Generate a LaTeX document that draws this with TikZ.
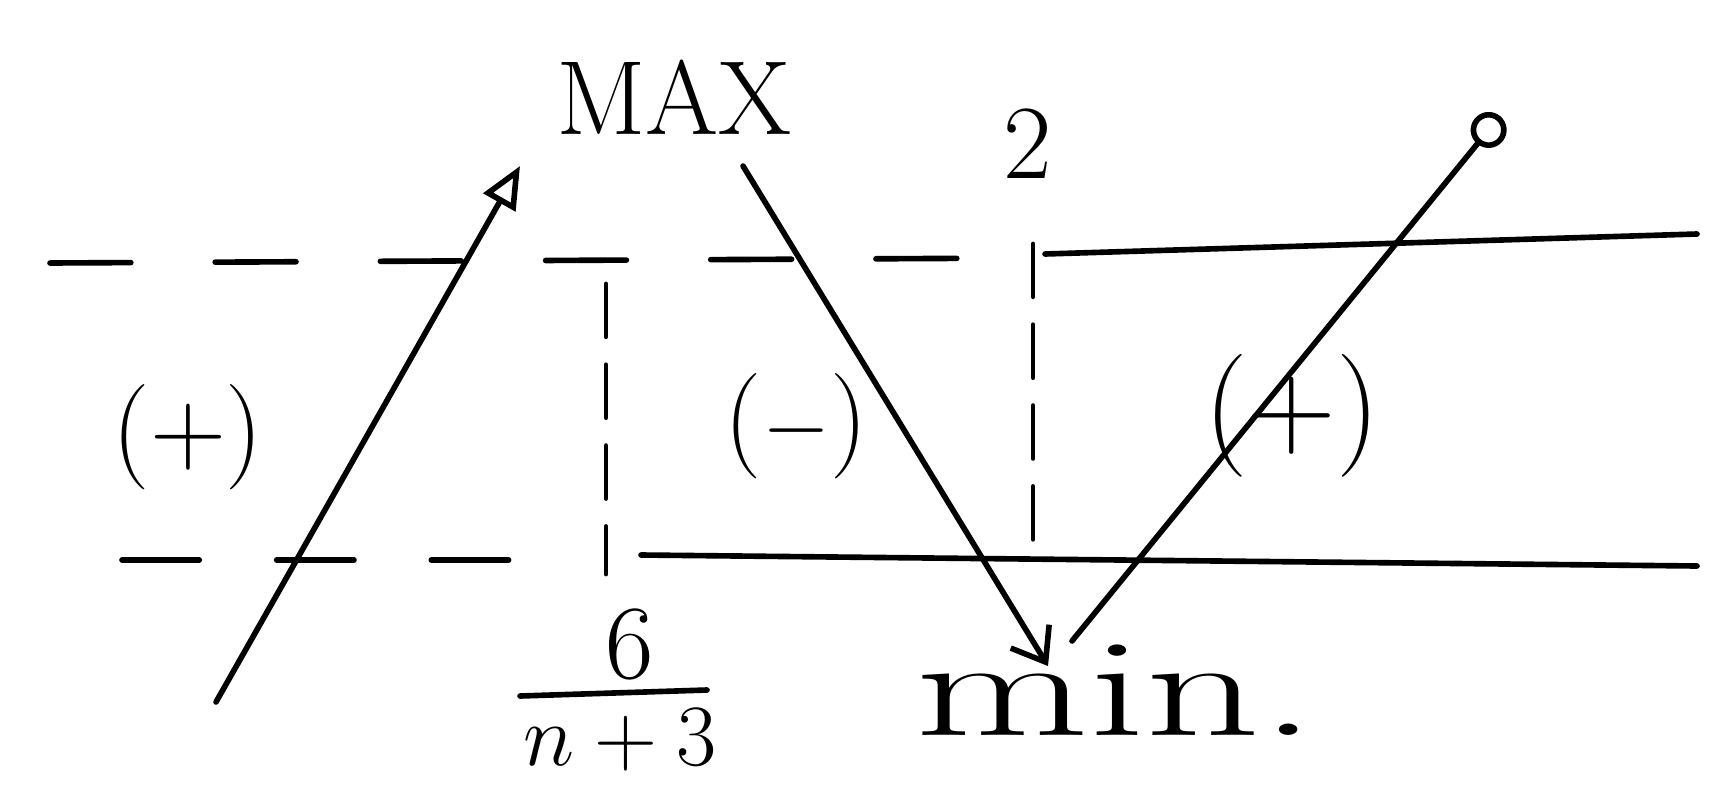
\documentclass[tikz,border=0pt]{standalone}
\usepackage{amsmath}
\usepackage{graphicx}
\usepackage{tikz}
\usetikzlibrary{arrows.meta}
\definecolor{Ink}{HTML}{000000}
\definecolor{Paper}{HTML}{FFFFFF}

\begin{document}
\begin{tikzpicture}[x=1cm,y=1cm,
  ink/.style={Ink,line width=1.6pt,line cap=round},
  levdash/.style={ink,dash pattern=on 23pt off 24pt},
  lowdash/.style={ink,dash pattern=on 22pt off 22pt},
  vdash/.style={ink,line width=1.4pt,dash pattern=on 15pt off 8pt},
  lbl/.style={font=\fontsize{30}{36}\selectfont,text=Ink,inner sep=0pt}]
\path[use as bounding box] (0,0) rectangle (17.33,7.96);
\fill[Paper] (0,0) rectangle (17.33,7.96);

% level lines
\coordinate (upL) at (0.50,5.33);
\coordinate (upM) at (10.33,5.38);
\coordinate (upS) at (10.45,5.42);
\coordinate (upR) at (16.97,5.62);
\coordinate (loL) at (1.22,2.36);
\coordinate (loD) at (5.25,2.36);
\coordinate (loS) at (6.41,2.41);
\coordinate (loR) at (16.97,2.30);
\coordinate (v1top) at (6.06,5.12);
\coordinate (v1bot) at (6.06,2.22);
\coordinate (v2top) at (10.33,5.52);
\coordinate (v2bot) at (10.33,2.40);
\draw[levdash] (upL) -- (upM);
\draw[ink] (upS) -- (upR);
\draw[lowdash] (loL) -- (loD);
\draw[ink] (loS) -- (loR);
\draw[vdash] (v1top) -- (v1bot);
\draw[vdash] (v2top) -- (v2bot);

% labels
\node[lbl] (max) at (6.74,6.99) {MAX};
\node[lbl] (two) at (10.28,6.52) {2};
\node[lbl] (plusL) at (1.88,3.59) {(+)};
\node[lbl] (minus) at (7.96,3.70) {($-$)};
\node[lbl,font=\fontsize{35}{40}\selectfont] (plusR) at (12.92,3.80) {(+)};
\node[lbl,font=\fontsize{40}{44}\selectfont,anchor=base] (min) at (11.16,0.61) {\scalebox{1.6}[1]{min.}};

% fraction 6/(n+3)
\node[lbl] (num) at (6.30,1.52) {6};
\node[lbl] (den) at (6.20,0.56) {$n+3$};
\coordinate (barL) at (5.20,1.00);
\coordinate (barR) at (7.07,1.06);
\draw[ink] (barL) -- (barR);

% sign arrows
\coordinate (a1s) at (2.16,0.94);
\coordinate (a1e) at (5.20,6.30);
\coordinate (a2s) at (7.43,6.30);
\coordinate (a2e) at (10.48,1.30);
\coordinate (a3s) at (10.72,1.55);
\coordinate (a3e) at (15.00,6.80);
\draw[ink,-{Triangle[open,length=0.42cm,width=0.36cm]}] (a1s) -- (a1e);
\draw[ink,-{Straight Barb[length=0.3cm,width=0.45cm]}] (a2s) -- (a2e);
\draw[ink,-{Circle[open,length=0.36cm]}] (a3s) -- (a3e);
\end{tikzpicture}
\end{document}
